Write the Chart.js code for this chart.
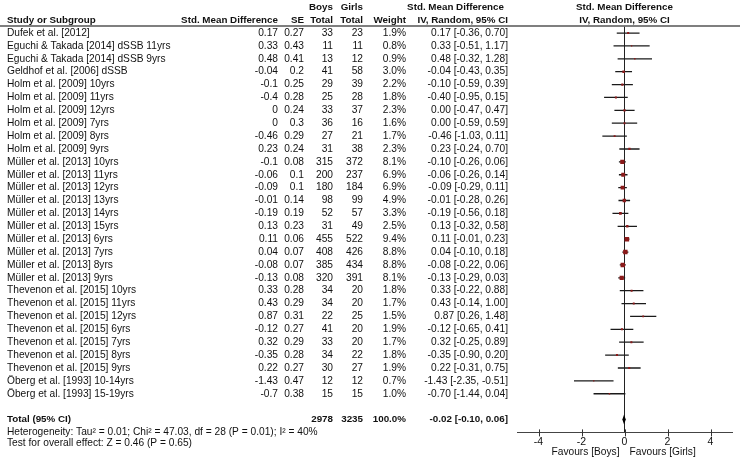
<!DOCTYPE html>
<html>
<head>
<meta charset="utf-8">
<script src="https://cdn.jsdelivr.net/npm/chart.js@4.4.0/dist/chart.umd.min.js"></script>
<style>
  html, body { margin: 0; padding: 0; background: #fff; }
  canvas { display: block; }
</style>
</head>
<body>
<canvas id="forest" width="740" height="463"></canvas>
<script>
// study rows
const studies = [
  'Dufek et al. [2012]',
  'Eguchi & Takada [2014] dSSB 11yrs',
  'Eguchi & Takada [2014] dSSB 9yrs',
  'Geldhof et al. [2006] dSSB',
  'Holm et al. [2009] 10yrs',
  'Holm et al. [2009] 11yrs',
  'Holm et al. [2009] 12yrs',
  'Holm et al. [2009] 7yrs',
  'Holm et al. [2009] 8yrs',
  'Holm et al. [2009] 9yrs',
  'Müller et al. [2013] 10yrs',
  'Müller et al. [2013] 11yrs',
  'Müller et al. [2013] 12yrs',
  'Müller et al. [2013] 13yrs',
  'Müller et al. [2013] 14yrs',
  'Müller et al. [2013] 15yrs',
  'Müller et al. [2013] 6yrs',
  'Müller et al. [2013] 7yrs',
  'Müller et al. [2013] 8yrs',
  'Müller et al. [2013] 9yrs',
  'Thevenon et al. [2015] 10yrs',
  'Thevenon et al. [2015] 11yrs',
  'Thevenon et al. [2015] 12yrs',
  'Thevenon et al. [2015] 6yrs',
  'Thevenon et al. [2015] 7yrs',
  'Thevenon et al. [2015] 8yrs',
  'Thevenon et al. [2015] 9yrs',
  'Öberg et al. [1993] 10-14yrs',
  'Öberg et al. [1993] 15-19yrs'
];
const smd = [0.17, 0.33, 0.48, -0.04, -0.1, -0.4, 0, 0, -0.46, 0.23,
  -0.1, -0.06, -0.09, -0.01, -0.19, 0.13, 0.11, 0.04, -0.08, -0.13,
  0.33, 0.43, 0.87, -0.12, 0.32, -0.35, 0.22, -1.43, -0.7];
const se = [0.27, 0.43, 0.41, 0.2, 0.25, 0.28, 0.24, 0.3, 0.29, 0.24,
  0.08, 0.1, 0.1, 0.14, 0.19, 0.23, 0.06, 0.07, 0.07, 0.08,
  0.28, 0.29, 0.31, 0.27, 0.29, 0.28, 0.27, 0.47, 0.38];
const boys = [33, 11, 13, 41, 29, 25, 33, 36, 27, 31,
  315, 200, 180, 98, 52, 31, 455, 408, 385, 320,
  34, 34, 22, 41, 33, 34, 30, 12, 15];
const girls = [23, 11, 12, 58, 39, 28, 37, 16, 21, 38,
  372, 237, 184, 99, 57, 49, 522, 426, 434, 391,
  20, 20, 25, 20, 20, 22, 27, 12, 15];
const weight = [1.9, 0.8, 0.9, 3.0, 2.2, 1.8, 2.3, 1.6, 1.7, 2.3,
  8.1, 6.9, 6.9, 4.9, 3.3, 2.5, 9.4, 8.8, 8.8, 8.1,
  1.8, 1.7, 1.5, 1.9, 1.7, 1.8, 1.9, 0.7, 1.0];
const ciLow = [-0.36, -0.51, -0.32, -0.43, -0.59, -0.95, -0.47, -0.59, -1.03, -0.24,
  -0.26, -0.26, -0.29, -0.28, -0.56, -0.32, -0.01, -0.10, -0.22, -0.29,
  -0.22, -0.14, 0.26, -0.65, -0.25, -0.90, -0.31, -2.35, -1.44];
const ciHigh = [0.70, 1.17, 1.28, 0.35, 0.39, 0.15, 0.47, 0.59, 0.11, 0.70,
  0.06, 0.14, 0.11, 0.26, 0.18, 0.58, 0.23, 0.18, 0.06, 0.03,
  0.88, 1.00, 1.48, 0.41, 0.89, 0.20, 0.75, -0.51, 0.04];

// pooled result
const totalBoys = 2978;
const totalGirls = 3235;
const totalWeight = 100.0;
const totalEst = -0.02;
const totalLow = -0.10;
const totalHigh = 0.06;

const xTicks = [-4, -2, 0, 2, 4];
const heterogeneity = 'Heterogeneity: Tau² = 0.01; Chi² = 47.03, df = 28 (P = 0.01); I² = 40%';
const overallTest = 'Test for overall effect: Z = 0.46 (P = 0.65)';

const totalRow = studies.length + 1;

const FAMILY = 'Arial, "Liberation Sans", sans-serif';
const FONT = '10.2px ' + FAMILY;
const BOLD = 'bold 9.8px ' + FAMILY;
const INK = '#111';

// right edges of the table columns
const col = { name: 7, smd: 278, se: 304, boys: 333, girls: 363, weight: 406, ci: 508 };

function ciText(est, lo, hi) {
  return est.toFixed(2) + ' [' + lo.toFixed(2) + ', ' + hi.toFixed(2) + ']';
}

const forestTable = {
  id: 'forestTable',
  afterDraw(chart) {
    const c = chart.ctx;
    const xs = chart.scales.x;
    const ys = chart.scales.y;
    const area = chart.chartArea;
    const mid = (area.left + area.right) / 2;

    c.save();
    c.fillStyle = INK;
    c.textBaseline = 'middle';

    // header
    c.font = BOLD;
    c.textAlign = 'right';
    c.fillText('Boys', col.boys, 7);
    c.fillText('Girls', col.girls, 7);
    c.fillText('Std. Mean Difference', col.ci - 4, 7);
    c.fillText('Std. Mean Difference', col.smd, 20);
    c.fillText('SE', col.se, 20);
    c.fillText('Total', col.boys, 20);
    c.fillText('Total', col.girls, 20);
    c.fillText('Weight', col.weight, 20);
    c.fillText('IV, Random, 95% CI', col.ci, 20);
    c.textAlign = 'center';
    c.fillText('Std. Mean Difference', mid, 7);
    c.fillText('IV, Random, 95% CI', mid, 20);
    c.textAlign = 'left';
    c.fillText('Study or Subgroup', col.name, 20);

    c.strokeStyle = '#555';
    c.lineWidth = 1.5;
    c.beginPath();
    c.moveTo(0, area.top - 0.5);
    c.lineTo(740, area.top - 0.5);
    c.stroke();

    // study rows
    c.font = FONT;
    studies.forEach((name, i) => {
      const y = ys.getPixelForValue(i);
      c.textAlign = 'left';
      c.fillText(name, col.name, y);
      c.textAlign = 'right';
      c.fillText(String(smd[i]), col.smd, y);
      c.fillText(String(se[i]), col.se, y);
      c.fillText(String(boys[i]), col.boys, y);
      c.fillText(String(girls[i]), col.girls, y);
      c.fillText(weight[i].toFixed(1) + '%', col.weight, y);
      c.fillText(ciText(smd[i], ciLow[i], ciHigh[i]), col.ci, y);
    });

    // total row
    const ty = ys.getPixelForValue(totalRow);
    c.font = BOLD;
    c.textAlign = 'left';
    c.fillText('Total (95% CI)', col.name, ty);
    c.textAlign = 'right';
    c.fillText(String(totalBoys), col.boys, ty);
    c.fillText(String(totalGirls), col.girls, ty);
    c.fillText(totalWeight.toFixed(1) + '%', col.weight, ty);
    c.fillText(ciText(totalEst, totalLow, totalHigh), col.ci, ty);

    c.font = FONT;
    c.textAlign = 'left';
    c.fillText(heterogeneity, col.name, ty + 12.5);
    c.fillText(overallTest, col.name, ty + 23.5);

    // pooled diamond
    const dx0 = xs.getPixelForValue(totalLow);
    const dx1 = xs.getPixelForValue(totalHigh);
    const dxm = xs.getPixelForValue(totalEst);
    c.fillStyle = '#000';
    c.beginPath();
    c.moveTo(dx0, ty);
    c.lineTo(dxm, ty - 5);
    c.lineTo(dx1, ty);
    c.lineTo(dxm, ty + 5);
    c.closePath();
    c.fill();

    // tick marks crossing the axis
    c.strokeStyle = '#333';
    c.lineWidth = 1;
    xs.ticks.forEach(t => {
      const px = Math.round(xs.getPixelForValue(t.value)) + 0.5;
      c.beginPath();
      c.moveTo(px, area.bottom - 3);
      c.lineTo(px, area.bottom + 4);
      c.stroke();
    });

    // favours labels
    const zero = xs.getPixelForValue(0);
    c.fillStyle = INK;
    c.textAlign = 'right';
    c.fillText('Favours [Boys]', zero - 5, area.bottom + 20);
    c.textAlign = 'left';
    c.fillText('Favours [Girls]', zero + 5, area.bottom + 20);
    c.restore();
  }
};

// one line per confidence interval
const ciSets = studies.map((s, i) => ({
  type: 'line',
  data: [{ x: ciLow[i], y: i }, { x: ciHigh[i], y: i }],
  borderColor: '#1a1a1a',
  borderWidth: 1.3,
  pointRadius: 0,
  order: 2
}));

const boxSet = {
  type: 'scatter',
  data: smd.map((v, i) => ({ x: v, y: i })),
  pointStyle: 'rect',
  pointRadius: ctx => 1.05 * Math.sqrt(weight[ctx.dataIndex]),
  backgroundColor: '#8b1a1a',
  borderWidth: 0,
  order: 1
};

new Chart(document.getElementById('forest'), {
  type: 'scatter',
  data: { datasets: [boxSet, ...ciSets] },
  options: {
    responsive: false,
    animation: false,
    events: [],
    layout: { padding: { left: 517, right: 8, top: 26.6, bottom: 12 } },
    plugins: { legend: { display: false }, tooltip: { enabled: false } },
    scales: {
      x: {
        type: 'linear',
        min: -5,
        max: 5,
        afterBuildTicks: scale => { scale.ticks = xTicks.map(v => ({ value: v })); },
        border: { display: true, color: '#444', width: 1 },
        grid: {
          drawTicks: false,
          color: ctx => (ctx.tick && ctx.tick.value === 0 ? '#222' : 'rgba(0,0,0,0)')
        },
        ticks: { color: INK, font: { family: FAMILY, size: 10.5 }, padding: 3 }
      },
      y: {
        type: 'linear',
        reverse: true,
        min: -0.5,
        max: 31,
        display: false
      }
    }
  },
  plugins: [forestTable]
});
</script>
</body>
</html>
